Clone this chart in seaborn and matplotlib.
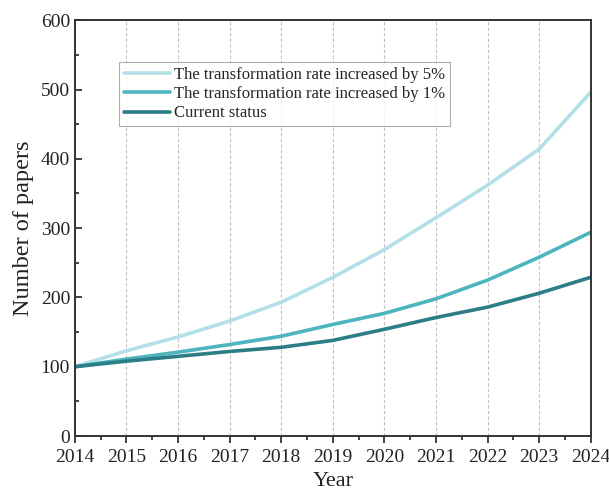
import pandas as pd
import matplotlib
matplotlib.use("Agg")
import matplotlib.pyplot as plt
from matplotlib.ticker import MultipleLocator
import seaborn as sns

years = [2014, 2015, 2016, 2017, 2018, 2019, 2020, 2021, 2022, 2023, 2024]
rate_5pct = [100, 123, 143, 166, 193, 229, 269, 315, 362, 414, 496]
rate_1pct = [100, 111, 121, 132, 144, 161, 177, 198, 225, 258, 294]
current = [100, 108, 115, 122, 128, 138, 154, 171, 186, 206, 229]

labels = ["The transformation rate increased by 5%",
          "The transformation rate increased by 1%",
          "Current status"]
colors = ["#b3e0e6", "#4db5be", "#2b7d86"]

df = pd.DataFrame({"Year": years, labels[0]: rate_5pct,
                   labels[1]: rate_1pct, labels[2]: current})
long = df.melt(id_vars="Year", var_name="Scenario", value_name="Papers")

sns.set_style("white")
plt.rcParams["font.family"] = ["Liberation Serif", "DejaVu Serif"]

fig = plt.figure(figsize=(6.09, 4.93), dpi=100)
ax = fig.add_axes([0.123, 0.1156, 0.847, 0.8434])

sns.lineplot(data=long, x="Year", y="Papers", hue="Scenario",
             hue_order=labels, palette=colors, linewidth=2.6, ax=ax)

ax.set_xlim(2014, 2024)
ax.set_ylim(0, 600)
ax.set_xticks(years)
ax.xaxis.set_minor_locator(MultipleLocator(0.5))
ax.yaxis.set_major_locator(MultipleLocator(100))
ax.yaxis.set_minor_locator(MultipleLocator(50))

ax.tick_params(axis="x", which="major", direction="out", length=5, width=1.2,
               labelsize=14, colors="#222222", pad=4)
ax.tick_params(axis="x", which="minor", direction="out", length=3, width=1.2)
ax.tick_params(axis="y", which="major", direction="in", length=5, width=1.2,
               labelsize=14, colors="#222222")
ax.tick_params(axis="y", which="minor", direction="in", length=3, width=1.2)
ax.tick_params(bottom=True, left=True, which="both")

for side in ["top", "bottom", "left", "right"]:
    ax.spines[side].set_visible(True)
    ax.spines[side].set_color("#333333")
    ax.spines[side].set_linewidth(1.4)

ax.grid(axis="x", which="major", linestyle=(0, (3, 2)), color="#c0c0c0",
        linewidth=0.8)
ax.grid(axis="y", visible=False)

ax.set_xlabel("Year", fontsize=16, color="#222222", labelpad=5)
ax.set_ylabel("Number of papers", fontsize=17.5, color="#222222", labelpad=5)

leg = ax.legend(loc="upper left", bbox_to_anchor=(0.085, 0.9), fontsize=12,
                frameon=True, fancybox=False, handlelength=2.8,
                handletextpad=0.2, borderpad=0.3, labelspacing=0.2,
                borderaxespad=0)
leg.get_frame().set_edgecolor("#999999")
leg.get_frame().set_linewidth(0.8)
for line in leg.get_lines():
    line.set_linewidth(2.6)

fig.savefig("out.png", dpi=100)
